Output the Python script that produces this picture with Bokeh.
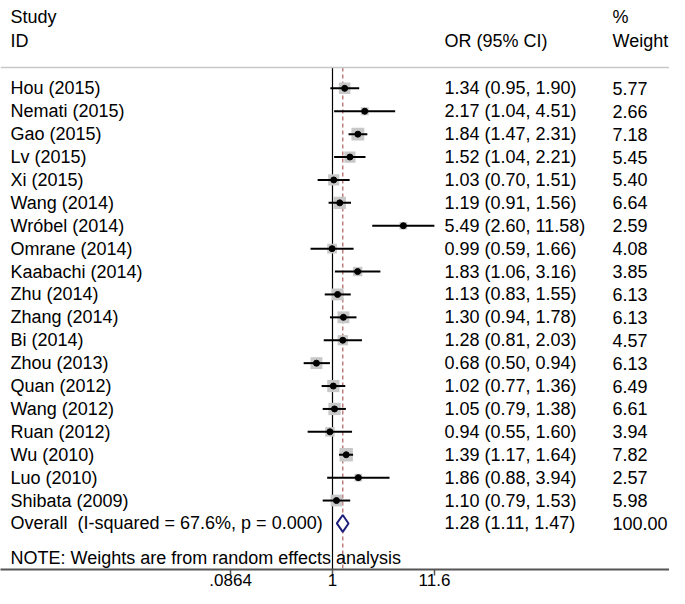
import numpy as np
from bokeh.plotting import figure
from bokeh.models import Range1d, FixedTicker, Span
from bokeh.core.properties import value
from bokeh.embed import file_html
from bokeh.resources import INLINE

# ---- data ----
studies = ["Hou (2015)", "Nemati (2015)", "Gao (2015)", "Lv (2015)", "Xi (2015)",
           "Wang (2014)", "Wróbel (2014)", "Omrane (2014)", "Kaabachi (2014)",
           "Zhu (2014)", "Zhang (2014)", "Bi (2014)", "Zhou (2013)", "Quan (2012)",
           "Wang (2012)", "Ruan (2012)", "Wu (2010)", "Luo (2010)", "Shibata (2009)"]
odds = [1.34, 2.17, 1.84, 1.52, 1.03, 1.19, 5.49, 0.99, 1.83, 1.13, 1.30, 1.28,
        0.68, 1.02, 1.05, 0.94, 1.39, 1.86, 1.10]
ci_low = [0.95, 1.04, 1.47, 1.04, 0.70, 0.91, 2.60, 0.59, 1.06, 0.83, 0.94, 0.81,
          0.50, 0.77, 0.79, 0.55, 1.17, 0.88, 0.79]
ci_high = [1.90, 4.51, 2.31, 2.21, 1.51, 1.56, 11.58, 1.66, 3.16, 1.55, 1.78, 2.03,
           0.94, 1.36, 1.38, 1.60, 1.64, 3.94, 1.53]
weights = [5.77, 2.66, 7.18, 5.45, 5.40, 6.64, 2.59, 4.08, 3.85, 6.13, 6.13, 4.57,
           6.13, 6.49, 6.61, 3.94, 7.82, 2.57, 5.98]
overall_label = "Overall \u00a0(I-squared = 67.6%, p = 0.000)"
overall_or = 1.28
overall_low = 1.11
overall_high = 1.47
overall_weight = 100.00
note_text = "NOTE: Weights are from random effects analysis"
axis_ticks = [0.0864, 1.0, 11.6]
axis_tick_labels = [".0864", "1", "11.6"]

# ---- layout ----
W, H = 669, 588
S = 41.6          # px per ln unit
X1 = 332.0        # canvas px of OR = 1
PITCH = 22.94     # px per row
ROW0 = 88.0       # canvas px of first row
FH = 570.0        # frame height (axis line position)

def xpx(c):
    return float(np.exp((c - X1) / S))

def rowy(canvas_y):
    return -(canvas_y - ROW0) / PITCH

FONT = value("Liberation Sans")
FS = "18px"

p = figure(width=W, height=H, x_axis_type="log",
           x_range=Range1d(xpx(0), xpx(W)),
           y_range=Range1d(rowy(FH), rowy(0)),
           output_backend="svg", toolbar_location=None,
           y_axis_location=None, min_border=0,
           min_border_left=0, min_border_right=0, min_border_top=0, min_border_bottom=0)
p.xgrid.visible = False
p.ygrid.visible = False
p.outline_line_color = None
p.background_fill_color = "white"
p.border_fill_color = "white"

n = len(studies)
ys = [-i for i in range(n)]
y_over = -n
y_top_line = rowy(67)
y_bottom = rowy(FH)

# separator line under the header
p.add_layout(Span(location=y_top_line, dimension="width", line_color="#c8c8c8", line_width=1.5))

# null line and overall line
p.segment(x0=[1.0], y0=[y_top_line], x1=[1.0], y1=[y_bottom], line_color="black", line_width=1.2)
p.segment(x0=[overall_or], y0=[y_top_line], x1=[overall_or], y1=[y_bottom],
          line_color="#b36b6b", line_width=1.3, line_dash="4 3")

# weight boxes
sizes = [4.8 * np.sqrt(w) for w in weights]
p.scatter(x=odds, y=ys, size=sizes, marker="square", fill_color="#c8c8c8", line_color=None)

# confidence intervals
p.segment(x0=ci_low, y0=ys, x1=ci_high, y1=ys, line_color="black", line_width=2)

# point estimates
p.scatter(x=odds, y=ys, size=6, marker="circle", fill_color="black", line_color="black")

# overall diamond
h = 0.37
p.patch(x=[overall_low, overall_or, overall_high, overall_or, overall_low],
        y=[y_over, y_over + h, y_over, y_over - h, y_over],
        fill_color="white", line_color="#1f1f7a", line_width=2)

# texts
or_texts = [f"{o:.2f} ({l:.2f}, {hi:.2f})" for o, l, hi in zip(odds, ci_low, ci_high)]
w_texts = [f"{w:.2f}" for w in weights]
or_texts.append(f"{overall_or:.2f} ({overall_low:.2f}, {overall_high:.2f})")
w_texts.append(f"{overall_weight:.2f}")
all_y = ys + [y_over]

common = dict(text_font=FONT, text_font_size=FS, text_baseline="middle",
              text_align="left", text_color="black")
p.text(x=[xpx(10)] * (n + 1), y=all_y, text=studies + [overall_label], **common)
p.text(x=[xpx(444)] * (n + 1), y=all_y, text=or_texts, **common)
p.text(x=[xpx(612)] * (n + 1), y=all_y, text=w_texts, **common)

# header
y_h1 = rowy(17)
y_h2 = rowy(41)
p.text(x=[xpx(10), xpx(10), xpx(444), xpx(612), xpx(612)],
       y=[y_h1, y_h2, y_h2, y_h1, y_h2],
       text=["Study", "ID", "OR (95% CI)", "%", "Weight"], **common)

# note
p.text(x=[xpx(10)], y=[rowy(558)], text=[note_text], **common)

# axis
ax = p.xaxis[0]
ax.ticker = FixedTicker(ticks=axis_ticks, minor_ticks=[])
ax.major_label_overrides = {t: l for t, l in zip(axis_ticks, axis_tick_labels)}
ax.axis_line_color = "#555555"
ax.axis_line_width = 2
ax.major_tick_line_color = "#555555"
ax.major_tick_line_width = 1.5
ax.major_tick_in = 0
ax.major_tick_out = 6
ax.minor_tick_in = 0
ax.minor_tick_out = 0
ax.major_label_standoff = -2
ax.major_label_text_font = "Liberation Sans"
ax.major_label_text_font_size = "17px"
ax.major_label_text_color = "black"

open("out.html", "w").write(file_html(p, INLINE))
